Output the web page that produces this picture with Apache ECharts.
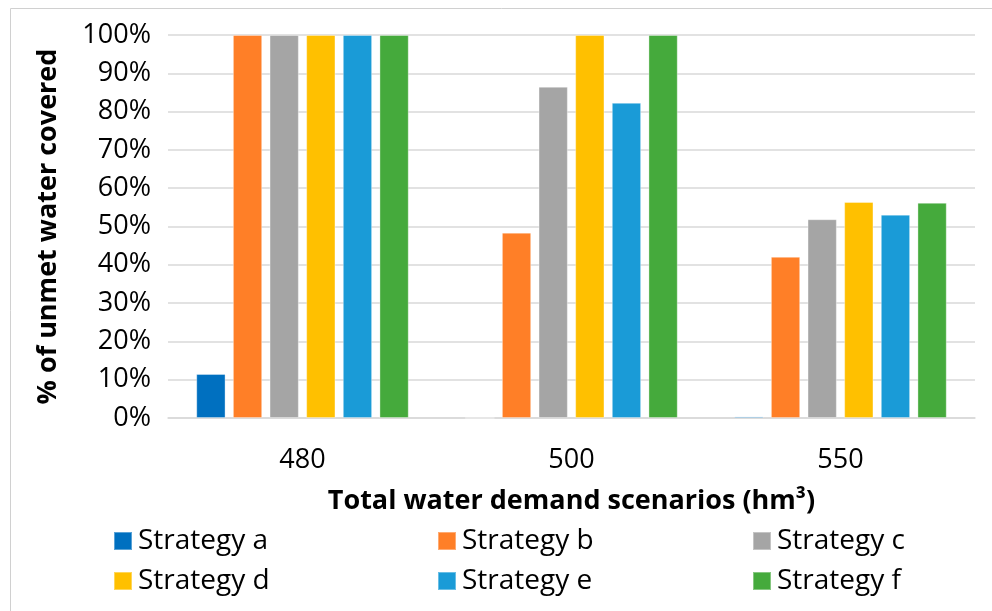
<!DOCTYPE html>
<html>
<head>
<meta charset="utf-8">
<script src="https://cdn.jsdelivr.net/npm/echarts@6/dist/echarts.min.js"></script>
<style>html,body{margin:0;padding:0;background:#fff;}#c{width:992px;height:611px;}</style>
</head>
<body>
<div id="c"></div>
<script>
const categories = ['480', '500', '550'];
const seriesNames = ['Strategy a', 'Strategy b', 'Strategy c', 'Strategy d', 'Strategy e', 'Strategy f'];
const strategyA = [11.5, 0, 0.4];
const strategyB = [100, 48.4, 42.1];
const strategyC = [100, 86.5, 51.9];
const strategyD = [100, 100, 56.4];
const strategyE = [100, 82.3, 53.1];
const strategyF = [100, 100, 56.2];
const colors = ['#0070C0', '#FF7F27', '#A5A5A5', '#FFC000', '#1A9BD7', '#45AA3C'];

const values = [strategyA, strategyB, strategyC, strategyD, strategyE, strategyF];
const FONT = 'Open Sans';
const chart = echarts.init(document.getElementById('c'), null, {renderer: 'canvas'});

const legendPos = [[113, 527], [437, 527], [752, 527], [113, 567], [437, 567], [752, 567]];
const legends = seriesNames.map((n, i) => ({
  data: [n],
  left: legendPos[i][0],
  top: legendPos[i][1],
  icon: 'rect',
  itemWidth: 18,
  itemHeight: 18,
  itemGap: 0,
  padding: 0,
  selectedMode: false,
  textStyle: {fontFamily: FONT, fontSize: 28, color: '#000', padding: [0, 0, 0, 1]}
}));

chart.setOption({
  animation: false,
  graphic: [{
    type: 'rect',
    shape: {x: 10.5, y: 8.5, width: 990, height: 620},
    style: {fill: 'none', stroke: '#D0D0D0', lineWidth: 1}
  }],
  grid: {left: 168, right: 17, top: 35, bottom: 193, containLabel: false},
  legend: legends,
  xAxis: {
    type: 'category',
    data: categories,
    name: 'Total water demand scenarios (hm³)',
    nameLocation: 'middle',
    nameGap: 70,
    nameTextStyle: {fontFamily: FONT, fontSize: 27, fontWeight: 'bold', color: '#000'},
    axisLine: {lineStyle: {color: '#D9D9D9', width: 1.5}},
    axisTick: {show: false},
    axisLabel: {fontFamily: FONT, fontSize: 27, color: '#000', margin: 29}
  },
  yAxis: {
    type: 'value',
    min: 0,
    max: 100,
    interval: 10,
    name: '% of unmet water covered',
    nameLocation: 'middle',
    nameGap: 106,
    nameTextStyle: {fontFamily: FONT, fontSize: 27, fontWeight: 'bold', color: '#000'},
    axisLine: {show: false},
    axisTick: {show: false},
    splitLine: {lineStyle: {color: '#D9D9D9', width: 1.5}},
    axisLabel: {fontFamily: FONT, fontSize: 27, color: '#000', margin: 17, formatter: '{value}%'}
  },
  series: values.map((v, i) => ({
    name: seriesNames[i],
    type: 'bar',
    data: v,
    barGap: '25%',
    barCategoryGap: '21%',
    itemStyle: {color: colors[i], borderColor: 'rgba(255,255,255,0.35)', borderWidth: 1}
  }))
});
</script>
</body>
</html>
